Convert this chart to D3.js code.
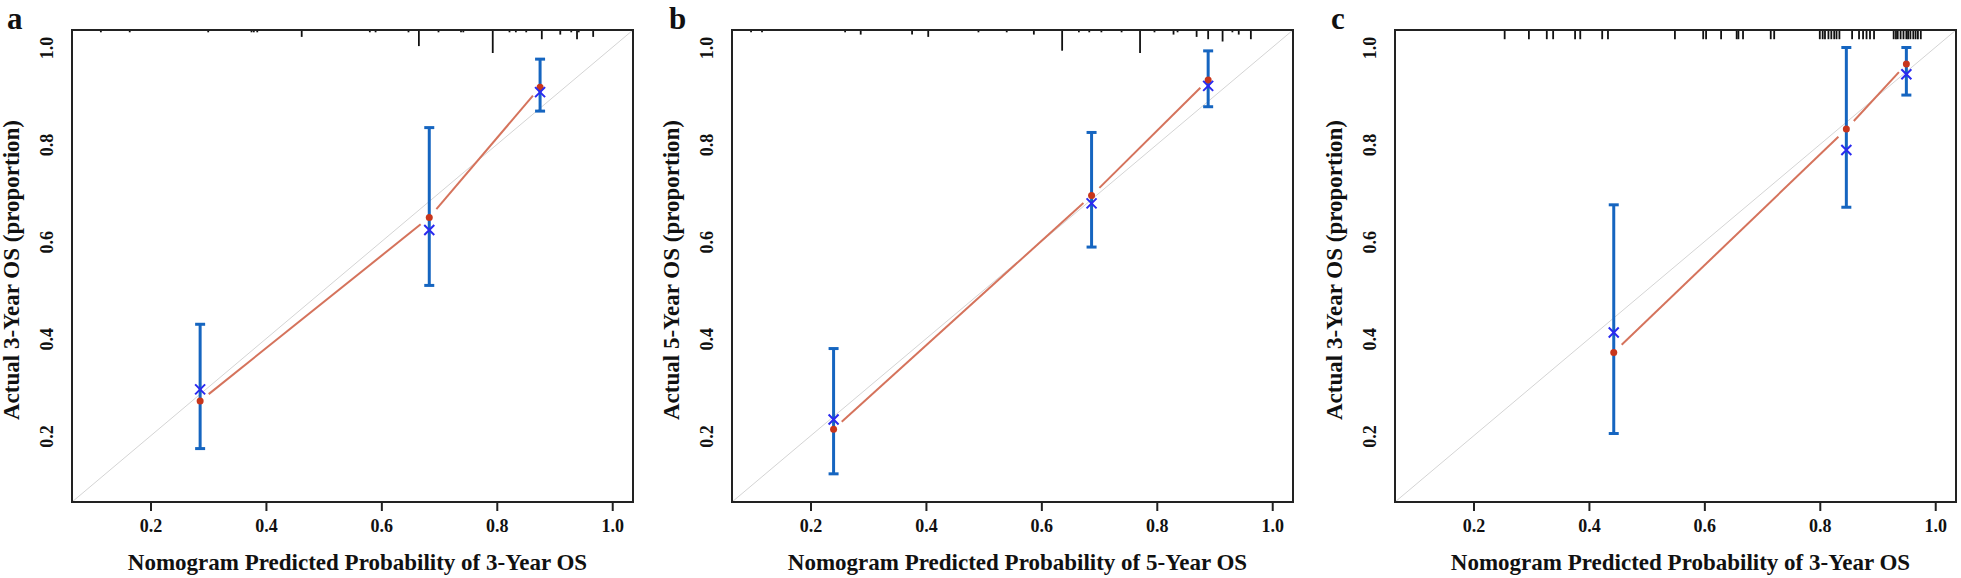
<!DOCTYPE html>
<html lang="en">
<head>
<meta charset="utf-8">
<style>
  body { margin: 0; background: #fff; }
  svg text { font-family: "Liberation Serif", "Times New Roman", serif; font-weight: bold; fill: #111; }
</style>
</head>
<body>
<script src="https://d3js.org/d3.v7.min.js"></script>
<script>
  var width = 1961, height = 578;

  // axis settings shared by the three panels
  var axisDomain = [0.064, 1.036];
  var xTicks = [0.2, 0.4, 0.6, 0.8, 1.0];
  var yTicks = [0.2, 0.4, 0.6, 0.8, 1.0];

  var letters = ['a', 'b', 'c'];
  var xTitles = ['Nomogram Predicted Probability of 3-Year OS',
                 'Nomogram Predicted Probability of 5-Year OS',
                 'Nomogram Predicted Probability of 3-Year OS'];
  var yTitles = ['Actual 3-Year OS (proportion)',
                 'Actual 5-Year OS (proportion)',
                 'Actual 3-Year OS (proportion)'];

  // panel a
  var predA = [0.286, 0.683, 0.875];
  var obsA = [0.272, 0.650, 0.918];
  var corrA = [0.296, 0.624, 0.908];
  var lowA = [0.174, 0.510, 0.869];
  var highA = [0.430, 0.835, 0.976];
  var rugA = [0.114, 0.164, 0.300, 0.375, 0.379, 0.385, 0.462, 0.580, 0.590, 0.647, 0.665, 0.699,
              0.738, 0.742, 0.793, 0.822, 0.833, 0.851, 0.878, 0.910, 0.929, 0.939, 0.942, 0.967];
  var rugCountA = [1, 1, 1, 1, 1, 1, 3, 1, 1, 1, 7, 1, 1, 1, 10, 1, 1, 1, 4, 2, 1, 4, 1, 3];

  // panel b
  var predB = [0.240, 0.687, 0.889];
  var obsB = [0.214, 0.695, 0.933];
  var corrB = [0.234, 0.679, 0.921];
  var lowB = [0.122, 0.589, 0.878];
  var highB = [0.380, 0.825, 0.993];
  var rugB = [0.097, 0.116, 0.260, 0.287, 0.376, 0.404, 0.491, 0.540, 0.587, 0.636, 0.665, 0.683,
              0.704, 0.739, 0.771, 0.796, 0.829, 0.836, 0.869, 0.889, 0.914, 0.931, 0.942, 0.963];
  var rugCountB = [1, 1, 1, 2, 2, 3, 1, 1, 2, 9, 1, 1, 1, 1, 10, 1, 2, 1, 3, 4, 5, 1, 2, 4];

  // panel c
  var predC = [0.443, 0.846, 0.950];
  var obsC = [0.372, 0.832, 0.966];
  var corrC = [0.413, 0.789, 0.945];
  var lowC = [0.205, 0.671, 0.902];
  var highC = [0.676, 1.000, 1.000];
  var rugC = [0.254, 0.296, 0.327, 0.338, 0.376, 0.385, 0.423, 0.433, 0.549, 0.598, 0.603, 0.629,
              0.656, 0.659, 0.667, 0.715, 0.721, 0.800, 0.805, 0.809, 0.815, 0.820, 0.825, 0.829,
              0.834, 0.856, 0.868, 0.875, 0.881, 0.887, 0.894, 0.928, 0.932, 0.935, 0.940, 0.945,
              0.950, 0.953, 0.957, 0.962, 0.966, 0.970, 0.975];
  var rugCountC = rugC.map(function () { return 4; });

  var panels = [
    { pred: predA, obs: obsA, corr: corrA, low: lowA, high: highA, rug: rugA, rugCount: rugCountA },
    { pred: predB, obs: obsB, corr: corrB, low: lowB, high: highB, rug: rugB, rugCount: rugCountB },
    { pred: predC, obs: obsC, corr: corrC, low: lowC, high: highC, rug: rugC, rugCount: rugCountC }
  ];
  var lefts = [72, 732, 1395];
  var plotTop = 30, plotW = 561, plotH = 472;

  var svg = d3.select('body').append('svg').attr('width', width).attr('height', height);

  var rugLen = d3.scaleLinear().domain([0, 10]).range([0, 23]);

  panels.forEach(function (p, i) {
    var left = lefts[i];
    var x = d3.scaleLinear().domain(axisDomain).range([left, left + plotW]);
    var y = d3.scaleLinear().domain(axisDomain).range([plotTop + plotH, plotTop]);
    var g = svg.append('g');

    // ideal line
    g.append('line')
      .attr('x1', x(axisDomain[0])).attr('y1', y(axisDomain[0]))
      .attr('x2', x(axisDomain[1])).attr('y2', y(axisDomain[1]))
      .attr('stroke', '#d4d4d4').attr('stroke-width', 1);

    // rug of predicted risks along the top
    g.selectAll('.rug').data(p.rug).join('line')
      .attr('x1', function (d) { return x(d); }).attr('x2', function (d) { return x(d); })
      .attr('y1', plotTop)
      .attr('y2', function (d, j) { return plotTop + rugLen(p.rugCount[j]); })
      .attr('stroke', '#111').attr('stroke-width', 1.8);

    // observed line, type = "b" (gaps around the points)
    var gap = 11;
    for (var k = 0; k < p.pred.length - 1; k++) {
      var ax = x(p.pred[k]), ay = y(p.obs[k]), bx = x(p.pred[k + 1]), by = y(p.obs[k + 1]);
      var len = Math.hypot(bx - ax, by - ay), ux = (bx - ax) / len, uy = (by - ay) / len;
      g.append('line')
        .attr('x1', ax + ux * gap).attr('y1', ay + uy * gap)
        .attr('x2', bx - ux * gap).attr('y2', by - uy * gap)
        .attr('stroke', '#d5735c').attr('stroke-width', 2);
    }

    // error bars
    var idx = d3.range(p.pred.length);
    g.selectAll('.bar').data(idx).join('line')
      .attr('x1', function (j) { return x(p.pred[j]); }).attr('x2', function (j) { return x(p.pred[j]); })
      .attr('y1', function (j) { return y(p.low[j]); }).attr('y2', function (j) { return y(p.high[j]); })
      .attr('stroke', '#1565c0').attr('stroke-width', 3);
    ['low', 'high'].forEach(function (key) {
      g.selectAll('.cap-' + key).data(idx).join('line')
        .attr('x1', function (j) { return x(p.pred[j]) - 5; }).attr('x2', function (j) { return x(p.pred[j]) + 5; })
        .attr('y1', function (j) { return y(p[key][j]); }).attr('y2', function (j) { return y(p[key][j]); })
        .attr('stroke', '#1565c0').attr('stroke-width', 3);
    });

    // observed points
    g.selectAll('.dot').data(idx).join('circle')
      .attr('cx', function (j) { return x(p.pred[j]); })
      .attr('cy', function (j) { return y(p.obs[j]); })
      .attr('r', 3.5).attr('fill', '#c8361c');

    // bias-corrected estimates (x marks)
    g.selectAll('.xmark').data(idx).join('path')
      .attr('d', function (j) {
        var cx = x(p.pred[j]), cy = y(p.corr[j]), s = 5;
        return 'M' + (cx - s) + ',' + (cy - s) + 'L' + (cx + s) + ',' + (cy + s) +
               'M' + (cx - s) + ',' + (cy + s) + 'L' + (cx + s) + ',' + (cy - s);
      })
      .attr('stroke', '#2a2af0').attr('stroke-width', 2).attr('fill', 'none');

    // box
    g.append('rect')
      .attr('x', left).attr('y', plotTop).attr('width', plotW).attr('height', plotH)
      .attr('fill', 'none').attr('stroke', '#222').attr('stroke-width', 2);

    // x axis
    var xa = g.append('g').attr('transform', 'translate(0,' + (plotTop + plotH) + ')')
      .call(d3.axisBottom(x).tickValues(xTicks).tickFormat(d3.format('.1f')).tickSize(9).tickPadding(8));
    xa.select('.domain').remove();
    xa.selectAll('line').attr('stroke', '#222').attr('stroke-width', 2);
    xa.selectAll('text').attr('font-size', 18).style('font-family', '"Liberation Serif", serif')
      .style('font-weight', 'bold').attr('fill', '#111');

    // y axis, labels parallel to the axis
    var ya = g.append('g').attr('transform', 'translate(' + left + ',0)')
      .call(d3.axisLeft(y).tickValues(yTicks).tickFormat(d3.format('.1f')).tickSize(0));
    ya.select('.domain').remove();
    ya.selectAll('text')
      .attr('transform', 'rotate(-90)')
      .attr('x', 0).attr('y', -19).attr('dy', 0)
      .attr('text-anchor', 'middle')
      .attr('font-size', 18).style('font-family', '"Liberation Serif", serif')
      .style('font-weight', 'bold').attr('fill', '#111');

    // titles
    g.append('text')
      .attr('x', left + plotW / 2 + 5).attr('y', 570)
      .attr('text-anchor', 'middle').attr('font-size', 23)
      .text(xTitles[i]);
    g.append('text')
      .attr('transform', 'translate(' + (left - 53) + ',' + (plotTop + plotH / 2 + 4) + ') rotate(-90)')
      .attr('text-anchor', 'middle').attr('font-size', 23)
      .text(yTitles[i]);
  });

  // panel letters
  svg.selectAll('.letter').data(letters).join('text')
    .attr('x', function (d, i) { return [7, 669, 1331][i]; })
    .attr('y', 29)
    .attr('font-size', 31)
    .text(function (d) { return d; });
</script>
</body>
</html>
